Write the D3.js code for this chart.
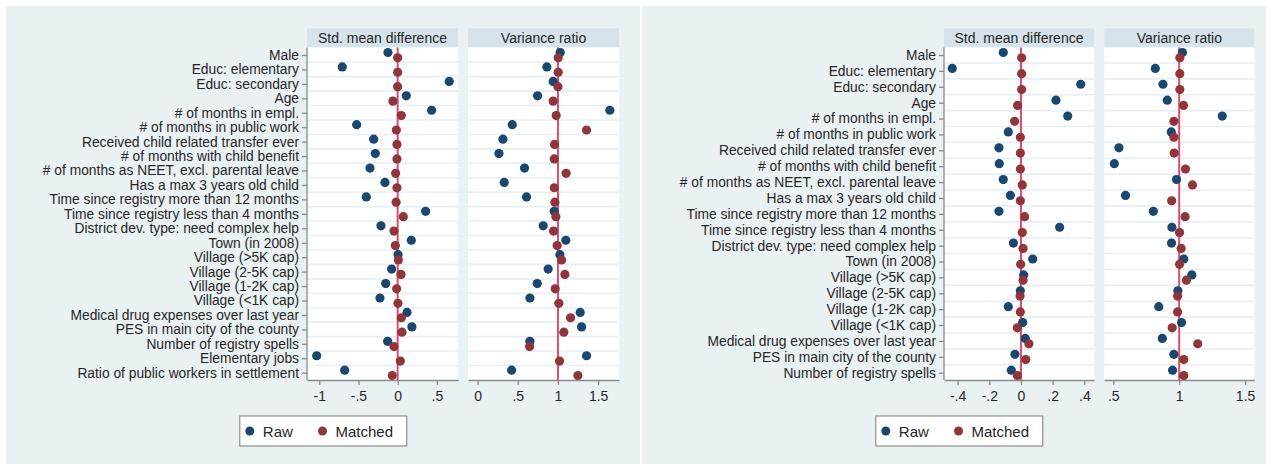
<!DOCTYPE html>
<html><head><meta charset="utf-8">
<script src="https://cdn.jsdelivr.net/npm/d3@7"></script>
<style>
html,body{margin:0;padding:0;background:#fff;}
svg{display:block;font-family:"Liberation Sans",Arial,sans-serif;}
</style></head>
<body>
<svg id="chart" width="1271" height="464"></svg>
<script>
// ---------- DATA ----------
const labelsLeft = ["Male","Educ: elementary","Educ: secondary","Age","# of months in empl.","# of months in public work","Received child related transfer ever","# of months with child benefit","# of months as NEET, excl. parental leave","Has a max 3 years old child","Time since registry more than 12 months","Time since registry less than 4 months","District dev. type: need complex help","Town (in 2008)","Village (>5K cap)","Village (2-5K cap)","Village (1-2K cap)","Village (<1K cap)","Medical drug expenses over last year","PES in main city of the county","Number of registry spells","Elementary jobs","Ratio of public workers in settlement"];
const leftSmdRaw     = [-0.124,-0.707,0.658,0.110,0.433,-0.523,-0.306,-0.285,-0.353,-0.162,-0.400,0.357,-0.213,0.174,0.005,-0.077,-0.153,-0.226,0.119,0.182,-0.128,-1.033,-0.676];
const leftSmdMatched = [0.000,0.000,0.000,-0.060,0.046,-0.017,-0.009,-0.009,-0.026,-0.009,-0.020,0.072,-0.047,-0.030,0.009,0.043,-0.013,0.004,0.047,0.055,-0.047,0.034,-0.069];
const leftVrRaw      = [1.028,0.862,0.940,0.746,1.646,0.431,0.315,0.265,0.584,0.331,0.609,0.953,0.816,1.098,1.024,0.878,0.742,0.651,1.277,1.294,0.651,1.356,0.423];
const leftVrMatched  = [1.003,1.003,1.000,0.940,0.978,1.356,0.958,0.954,1.102,0.954,0.962,0.974,0.945,0.990,1.045,1.086,0.966,1.011,1.157,1.073,0.647,1.020,1.248];

const labelsRight = labelsLeft.slice(0, 21);
const rightSmdRaw     = [-0.112,-0.434,0.377,0.221,0.295,-0.080,-0.139,-0.137,-0.112,-0.067,-0.139,0.244,-0.048,0.074,0.017,-0.004,-0.080,0.011,0.027,-0.038,-0.061];
const rightSmdMatched = [0.004,0.004,0.004,-0.021,-0.040,-0.004,-0.004,-0.004,0.008,-0.004,0.023,0.008,0.013,-0.002,0.013,-0.006,-0.004,-0.023,0.050,0.030,-0.023];
const rightVrRaw      = [1.025,0.819,0.877,0.910,1.327,0.940,0.543,0.508,0.980,0.593,0.804,0.945,0.942,1.035,1.096,0.990,0.845,1.018,0.872,0.960,0.950];
const rightVrMatched  = [1.005,1.005,1.005,1.033,0.960,0.960,0.962,1.048,1.101,0.943,1.045,1.003,1.015,1.003,1.055,0.988,0.988,0.947,1.141,1.035,1.035];

const smdTicksLeft  = [-1,-0.5,0,0.5];
const vrTicksLeft   = [0,0.5,1,1.5];
const smdTicksRight = [-0.4,-0.2,0,0.2,0.4];
const vrTicksRight  = [0.5,1,1.5];
const panelTitles = ["Std. mean difference","Variance ratio"];
const seriesNames = ["Raw","Matched"];

// ---------- STYLE ----------
const C = {bg:"#eaf1f3", strip:"#d7e3ea", raw:"#1a476f", matched:"#90353b", ref:"#d9506e",
           grid:"#e8eef1", axis:"#8a8a8a", text:"#262626"};
const fmt = d => String(d).replace("0.", ".");

const svg = d3.select("#chart");

function drawChart(cfg){
  const g = svg.append("g");
  g.append("rect").attr("x",cfg.x0).attr("y",6).attr("width",cfg.x1-cfg.x0).attr("height",458).attr("fill",C.bg);

  const y = d3.scalePoint().domain(cfg.labels).range([55, 372.7]);
  const step = y.step();
  const top = 47.5, bottom = 380;

  cfg.panels.forEach((p, i) => {
    const x = d3.scaleLinear().domain(p.domain).range(p.range);
    const w = p.range[1]-p.range[0];
    // strip
    g.append("rect").attr("x",p.range[0]).attr("y",28.3).attr("width",w).attr("height",19).attr("fill",C.strip);
    g.append("text").attr("x",(p.range[0]+p.range[1])/2).attr("y",43).attr("text-anchor","middle")
      .attr("font-size",14).attr("fill",C.text).text(panelTitles[i]);
    // plot region
    g.append("rect").attr("x",p.range[0]).attr("y",top).attr("width",w).attr("height",bottom-top).attr("fill","#fff");
    // grid lines between rows
    g.append("g").selectAll("line").data(cfg.labels.slice(1)).join("line")
      .attr("x1",p.range[0]).attr("x2",p.range[1])
      .attr("y1",d=>y(d)-step/2).attr("y2",d=>y(d)-step/2)
      .attr("stroke",C.grid).attr("stroke-width",1.6);
    // reference line
    g.append("line").attr("x1",x(p.ref)).attr("x2",x(p.ref)).attr("y1",top).attr("y2",bottom)
      .attr("stroke",C.ref).attr("stroke-width",2);
    // x axis
    const ax = g.append("g").attr("transform",`translate(0,${bottom})`)
      .call(d3.axisBottom(x).tickValues(p.ticks).tickFormat(fmt).tickSize(5).tickSizeOuter(0));
    ax.select(".domain").attr("stroke",C.axis).attr("stroke-width",1.3);
    ax.selectAll(".tick line").attr("stroke",C.axis).attr("stroke-width",1.3);
    ax.selectAll(".tick text").attr("font-size",14).attr("fill",C.text).attr("font-family","Liberation Sans, Arial, sans-serif").attr("dy","0.9em");
    // dots
    g.append("g").selectAll("circle").data(p.raw).join("circle")
      .attr("cx",d=>x(d)).attr("cy",(d,k)=>y(cfg.labels[k])-2.5).attr("r",4.6).attr("fill",C.raw);
    g.append("g").selectAll("circle").data(p.matched).join("circle")
      .attr("cx",d=>x(d)).attr("cy",(d,k)=>y(cfg.labels[k])+2.8).attr("r",4.6).attr("fill",C.matched);
  });

  // y axis
  const yx = cfg.panels[0].range[0];
  const ay = g.append("g").attr("transform",`translate(${yx},0)`)
    .call(d3.axisLeft(y).tickSize(5).tickPadding(3).tickSizeOuter(0));
  ay.select(".domain").attr("d",`M0,${top}V${bottom}`).attr("stroke",C.axis).attr("stroke-width",1.3);
  ay.selectAll(".tick line").attr("stroke",C.axis).attr("stroke-width",1.3);
  ay.selectAll(".tick text").attr("font-size",13.8).attr("fill",C.text).attr("font-family","Liberation Sans, Arial, sans-serif");

  // legend
  const lx = cfg.x0 + 233.8, ly = 416;
  const lg = g.append("g");
  lg.append("rect").attr("x",lx).attr("y",ly).attr("width",167).attr("height",30)
    .attr("fill","#fff").attr("stroke","#7a7a7a").attr("stroke-width",1);
  const items = [{n:seriesNames[0],c:C.raw,dx:10},{n:seriesNames[1],c:C.matched,dx:82.7}];
  items.forEach(it=>{
    lg.append("circle").attr("cx",lx+it.dx).attr("cy",ly+15).attr("r",4.5).attr("fill",it.c);
    lg.append("text").attr("x",lx+it.dx+13).attr("y",ly+20.5).attr("font-size",15).attr("fill",C.text).text(it.n);
  });
}

drawChart({x0:6, x1:640, labels:labelsLeft, panels:[
  {domain:[-1.157,0.77], range:[307,458], ticks:smdTicksLeft, ref:0, raw:leftSmdRaw, matched:leftSmdMatched},
  {domain:[-0.12,1.76], range:[468,619], ticks:vrTicksLeft, ref:1, raw:leftVrRaw, matched:leftVrMatched}
]});
drawChart({x0:642, x1:1266, labels:labelsRight, panels:[
  {domain:[-0.486,0.461], range:[944,1094], ticks:smdTicksRight, ref:0, raw:rightSmdRaw, matched:rightSmdMatched},
  {domain:[0.432,1.57], range:[1104.3,1254.3], ticks:vrTicksRight, ref:1, raw:rightVrRaw, matched:rightVrMatched}
]});
</script>
</body></html>
